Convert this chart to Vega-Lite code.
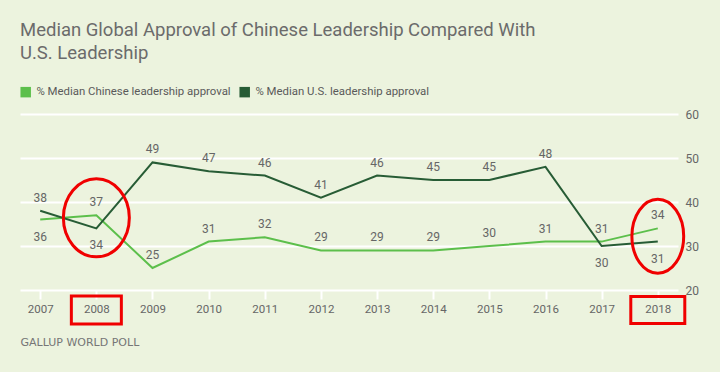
{
  "$schema": "https://vega.github.io/schema/vega-lite/v6.json",
  "width": 658,
  "height": 176,
  "autosize": {"type": "none"},
  "padding": {"left": 20, "top": 114, "right": 42, "bottom": 82},
  "background": "#ecf3de",
  "title": {
    "text": ["Median Global Approval of Chinese Leadership Compared With", "U.S. Leadership"],
    "anchor": "start",
    "frame": "group",
    "font": "Roboto",
    "fontSize": 18.5,
    "fontWeight": "normal",
    "color": "#6b6b6b",
    "lineHeight": 23,
    "offset": 24
  },
  "config": {
    "view": {"stroke": null},
    "font": "Roboto",
    "legend": {
      "orient": "none",
      "legendX": 0,
      "legendY": -28,
      "direction": "horizontal",
      "title": null,
      "symbolType": "square",
      "symbolSize": 110,
      "labelFontSize": 11.4,
      "labelColor": "#5a5a5a",
      "labelFont": "Roboto",
      "columnPadding": 8,
      "labelOffset": 5,
      "labelLimit": 300
    }
  },
  "datasets": {
    "approval": [
      {"year": "2007", "series": "% Median Chinese leadership approval", "value": 36},
      {"year": "2008", "series": "% Median Chinese leadership approval", "value": 37},
      {"year": "2009", "series": "% Median Chinese leadership approval", "value": 25},
      {"year": "2010", "series": "% Median Chinese leadership approval", "value": 31},
      {"year": "2011", "series": "% Median Chinese leadership approval", "value": 32},
      {"year": "2012", "series": "% Median Chinese leadership approval", "value": 29},
      {"year": "2013", "series": "% Median Chinese leadership approval", "value": 29},
      {"year": "2014", "series": "% Median Chinese leadership approval", "value": 29},
      {"year": "2015", "series": "% Median Chinese leadership approval", "value": 30},
      {"year": "2016", "series": "% Median Chinese leadership approval", "value": 31},
      {"year": "2017", "series": "% Median Chinese leadership approval", "value": 31},
      {"year": "2018", "series": "% Median Chinese leadership approval", "value": 34},
      {"year": "2007", "series": "% Median U.S. leadership approval", "value": 38},
      {"year": "2008", "series": "% Median U.S. leadership approval", "value": 34},
      {"year": "2009", "series": "% Median U.S. leadership approval", "value": 49},
      {"year": "2010", "series": "% Median U.S. leadership approval", "value": 47},
      {"year": "2011", "series": "% Median U.S. leadership approval", "value": 46},
      {"year": "2012", "series": "% Median U.S. leadership approval", "value": 41},
      {"year": "2013", "series": "% Median U.S. leadership approval", "value": 46},
      {"year": "2014", "series": "% Median U.S. leadership approval", "value": 45},
      {"year": "2015", "series": "% Median U.S. leadership approval", "value": 45},
      {"year": "2016", "series": "% Median U.S. leadership approval", "value": 48},
      {"year": "2017", "series": "% Median U.S. leadership approval", "value": 30},
      {"year": "2018", "series": "% Median U.S. leadership approval", "value": 31}
    ],
    "ellipses": [
      {"year": "2008", "value": 36.4},
      {"year": "2018", "value": 32.2}
    ],
    "boxes": [
      {"year": "2008", "value": 15.45},
      {"year": "2018", "value": 15.45}
    ]
  },
  "encoding": {
    "x": {
      "field": "year",
      "type": "ordinal",
      "scale": {"type": "point", "padding": 0.36},
      "axis": {
        "labelAngle": 0,
        "domain": false,
        "grid": false,
        "ticks": true,
        "tickColor": "#ffffff",
        "tickWidth": 2,
        "tickSize": 9,
        "labelPadding": 4,
        "labelFontSize": 11.5,
        "labelColor": "#666666",
        "labelFont": "Roboto",
        "title": "GALLUP WORLD POLL",
        "titleFont": "DejaVu Sans",
        "titleFontSize": 11,
        "titleFontWeight": "normal",
        "titleColor": "#767676",
        "titleAnchor": "start",
        "titleAlign": "left",
        "titleBaseline": "middle",
        "titleX": 0,
        "titleY": 52
      }
    },
    "y": {
      "field": "value",
      "type": "quantitative",
      "scale": {"domain": [20, 60], "nice": false, "zero": false},
      "axis": {
        "orient": "right",
        "values": [20, 30, 40, 50, 60],
        "domain": false,
        "ticks": false,
        "grid": true,
        "gridColor": "#ffffff",
        "gridWidth": 2,
        "gridOpacity": 1,
        "labelPadding": 7,
        "labelFontSize": 12,
        "labelColor": "#666666",
        "labelFont": "Roboto",
        "title": null
      }
    }
  },
  "layer": [
    {
      "data": {"name": "approval"},
      "mark": {"type": "line", "strokeWidth": 2},
      "encoding": {
        "color": {
          "field": "series",
          "type": "nominal",
          "scale": {
            "domain": ["% Median Chinese leadership approval", "% Median U.S. leadership approval"],
            "range": ["#5cbf4b", "#275c35"]
          },
          "legend": {
            "symbolStrokeWidth": 0,
            "encode": {
              "symbols": {
                "update": {
                  "fill": {"scale": "color", "field": "value"},
                  "fillOpacity": {"value": 1},
                  "strokeWidth": {"value": 0}
                }
              }
            }
          }
        }
      }
    },
    {
      "data": {"name": "approval"},
      "transform": [
        {"joinaggregate": [{"op": "min", "field": "value", "as": "mn"}, {"op": "max", "field": "value", "as": "mx"}], "groupby": ["year"]},
        {"filter": "!(datum.value == datum.mn && datum.mx - datum.mn <= 4)"}
      ],
      "mark": {"type": "text", "dy": -13, "fontSize": 12, "color": "#666666", "font": "Roboto", "baseline": "middle"},
      "encoding": {"text": {"field": "value", "type": "quantitative"}}
    },
    {
      "data": {"name": "approval"},
      "transform": [
        {"joinaggregate": [{"op": "min", "field": "value", "as": "mn"}, {"op": "max", "field": "value", "as": "mx"}], "groupby": ["year"]},
        {"filter": "datum.value == datum.mn && datum.mx - datum.mn <= 4"}
      ],
      "mark": {"type": "text", "dy": 17, "fontSize": 12, "color": "#666666", "font": "Roboto", "baseline": "middle"},
      "encoding": {"text": {"field": "value", "type": "quantitative"}}
    },
    {
      "data": {"name": "ellipses"},
      "transform": [{"filter": "datum.year == '2008'"}],
      "mark": {"type": "point", "filled": false, "stroke": "#f00000", "strokeWidth": 3, "opacity": 1, "size": 6084, "shape": "M0,-1A0.846,1 0 1,1 0,1A0.846,1 0 1,1 0,-1Z"},
      "encoding": {}
    },
    {
      "data": {"name": "ellipses"},
      "transform": [{"filter": "datum.year == '2018'"}],
      "mark": {"type": "point", "filled": false, "stroke": "#f00000", "strokeWidth": 3, "opacity": 1, "size": 5476, "shape": "M0,-1A0.70,1 0 1,1 0,1A0.70,1 0 1,1 0,-1Z"},
      "encoding": {}
    },
    {
      "data": {"name": "boxes"},
      "transform": [{"filter": "datum.year == '2008'"}],
      "mark": {"type": "point", "filled": false, "stroke": "#f00000", "strokeWidth": 3, "opacity": 1, "size": 2500, "shape": "M-1,-0.56H1V0.56H-1Z"},
      "encoding": {}
    },
    {
      "data": {"name": "boxes"},
      "transform": [{"filter": "datum.year == '2018'"}],
      "mark": {"type": "point", "filled": false, "stroke": "#f00000", "strokeWidth": 3, "opacity": 1, "size": 2916, "shape": "M-1,-0.5H1V0.5H-1Z"},
      "encoding": {}
    }
  ]
}
